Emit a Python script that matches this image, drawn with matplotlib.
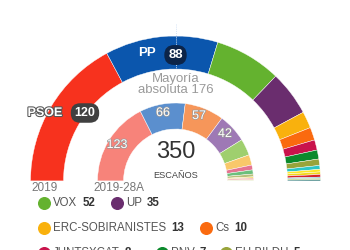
import matplotlib
matplotlib.use("Agg")
import matplotlib.pyplot as plt
import matplotlib.patheffects as pe

plt.rcParams['font.family'] = ['Liberation Sans', 'DejaVu Sans']

# November 2019 results (outer ring)
parties_2019 = ['PSOE', 'PP', 'VOX', 'UP', 'ERC-SOBIRANISTES', 'Cs', 'JUNTSXCAT',
                'PNV', 'EH BILDU', 'MÁS PAÍS', 'CUP', 'CC', 'NA+', 'BNG', 'PRC', 'TERUEL EXISTE']
seats_2019 = [120, 88, 52, 35, 13, 10, 8, 7, 5, 3, 2, 2, 2, 1, 1, 1]
colors_2019 = ['#f7321e', '#0b56ad', '#64b22f', '#6a2d6e', '#f9b10d', '#fa6a0f', '#c9134c',
               '#0b8a2c', '#98a43a', '#2bc6c6', '#fde725', '#f2d81a', '#d6232a',
               '#6ab0de', '#a8c23a', '#1f6f6f']

# April 2019 results (inner ring)
parties_28a = ['PSOE', 'PP', 'Cs', 'UP', 'VOX', 'ERC', 'JXCAT', 'PNV', 'EH BILDU',
               'CC', 'NA+', 'COMPROMÍS', 'PRC']
seats_28a = [123, 66, 57, 42, 24, 15, 7, 6, 4, 2, 2, 1, 1]
colors_28a = ['#f7837a', '#5b8fce', '#f6965a', '#9e79b5', '#9fcf6e', '#f9c86a', '#e57491',
              '#6bbf7c', '#b8c07a', '#f5e07a', '#e8808a', '#f2a060', '#c3d680']

total_seats = 350
majority = 176
legend_rows = [[2, 3], [4, 5], [6, 7, 8]]
legend_x = [[44, 117], [44, 206], [44, 162, 226]]
legend_y = [203, 228, 253]


def Y(y):
    # image pixel row -> data y
    return 250 - y


fig = plt.figure(figsize=(3.5, 2.5), dpi=100)
ax = fig.add_axes([0, 0, 1, 1])

cx, cy = 175.5, Y(181)
edge = dict(edgecolor='white', linewidth=0.3)

ax.pie(seats_2019 + [total_seats], colors=colors_2019 + ['none'], startangle=180,
       counterclock=False, radius=145, center=(cx, cy), frame=True,
       wedgeprops=dict(width=33, **edge))
ax.pie(seats_28a + [total_seats], colors=colors_28a + ['none'], startangle=180,
       counterclock=False, radius=78, center=(cx, cy), frame=True,
       wedgeprops=dict(width=26, **edge))

ax.set_xlim(0, 350)
ax.set_ylim(0, 250)
ax.set_aspect('equal')
ax.axis('off')

# majority marker
ax.plot([cx, cx], [Y(24), Y(68)], color='#d5e3f5', lw=0.7, ls=(0, (1, 1.2)), zorder=3)

# outer ring labels
ax.text(147, Y(53), 'PP', color='white', fontsize=9.5, fontweight='bold',
        ha='center', va='center', zorder=4)
ax.text(cx, Y(55), str(seats_2019[1]), color='white', fontsize=9.5, fontweight='bold',
        ha='center', va='center', zorder=4,
        bbox=dict(boxstyle='round,pad=0.3,rounding_size=0.75', fc='#0c2448', ec='none'))
ax.text(45, Y(113), 'PSOE', color='white', fontsize=9, fontweight='bold',
        ha='center', va='center', zorder=4,
        path_effects=[pe.withStroke(linewidth=1.5, foreground='#555555')])
ax.text(85, Y(113), str(seats_2019[0]), color='white', fontsize=9, fontweight='bold',
        ha='center', va='center', zorder=4,
        bbox=dict(boxstyle='round,pad=0.3,rounding_size=0.75', fc='#404040', ec='none'))

ax.text(cx, Y(79), 'Mayoría', color='#9a9a9a', fontsize=9.5, ha='center', va='center')
ax.text(cx, Y(90), 'absoluta %d' % majority, color='#9a9a9a', fontsize=9.5,
        ha='center', va='center')

# inner ring labels
inner_pos = [(117, 145), (163, 113), (199, 116), (225, 134)]
for (x, y), s in zip(inner_pos, seats_28a[:4]):
    ax.text(x, Y(y), str(s), color='white', fontsize=9, ha='center', va='center',
            path_effects=[pe.withStroke(linewidth=1, foreground='#999999')])

ax.text(cx, Y(152), str(total_seats), color='#333333', fontsize=17,
        ha='center', va='center')
ax.text(cx, Y(175), 'ESCAÑOS', color='#444444', fontsize=6.6, ha='center', va='center')

ax.text(45, Y(188), '2019', color='#777777', fontsize=8.5, ha='center', va='center')
ax.text(119, Y(188), '2019-28A', color='#777777', fontsize=8.5, ha='center', va='center')

# legend
fig.canvas.draw()
for row, xs, y in zip(legend_rows, legend_x, legend_y):
    for i, x in zip(row, xs):
        ax.scatter([x], [Y(y)], s=70, color=colors_2019[i], zorder=5, clip_on=False)
        t = ax.text(x + 9, Y(y), parties_2019[i], color='#555555', fontsize=8.3,
                    ha='left', va='center')
        bb = t.get_window_extent(renderer=fig.canvas.get_renderer())
        ax.text(bb.x1 + 5, Y(y), str(seats_2019[i]), color='#333333', fontsize=8.3,
                fontweight='bold', ha='left', va='center')

fig.savefig('out.png', dpi=100)
